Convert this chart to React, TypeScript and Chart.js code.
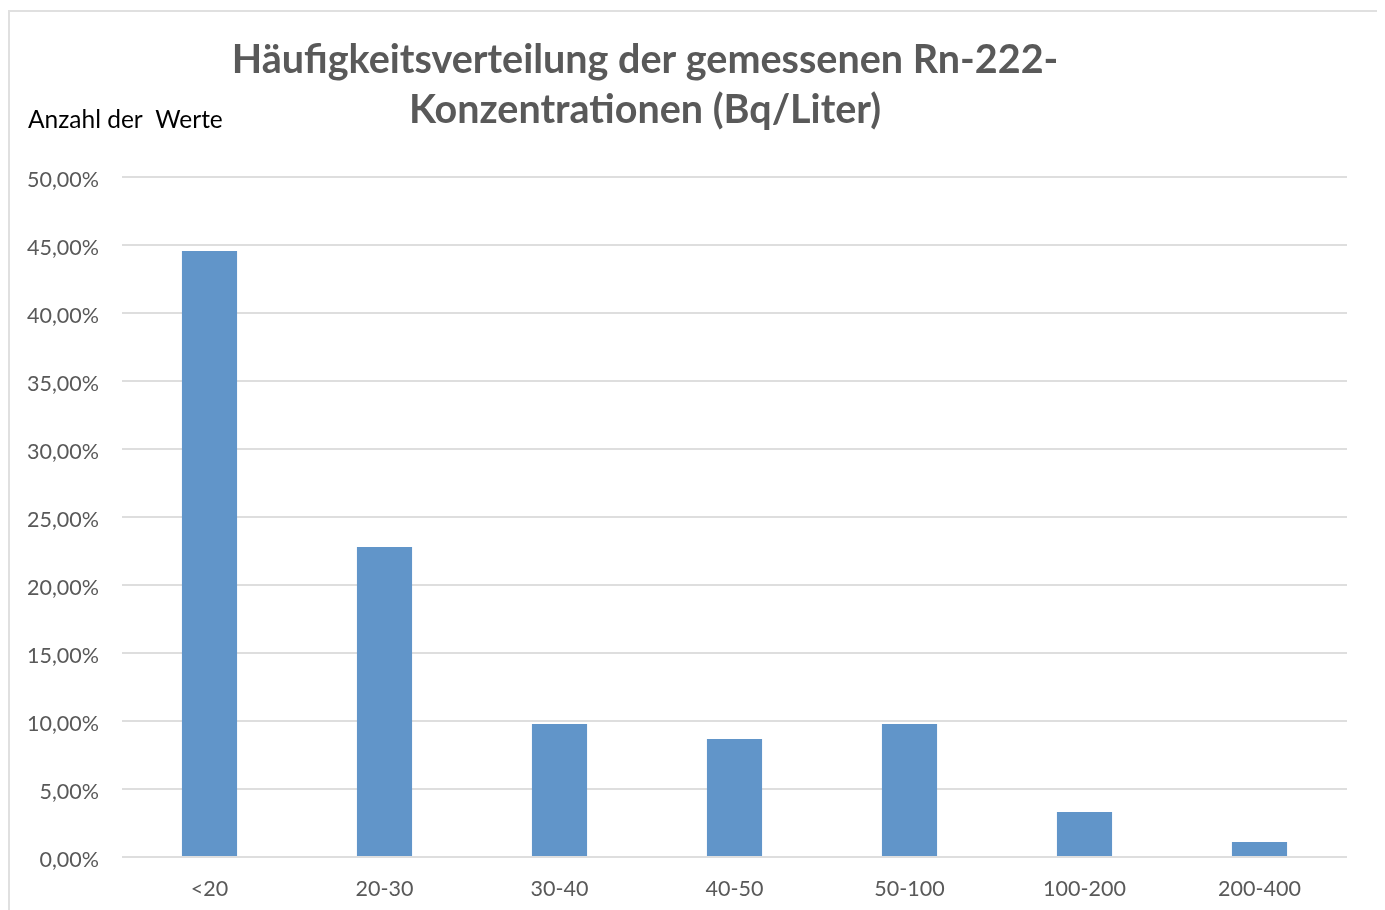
import React, { useEffect, useRef } from "react";
import { Chart, registerables } from "chart.js";

Chart.register(...registerables);

const categories = ["<20", "20-30", "30-40", "40-50", "50-100", "100-200", "200-400"];
const percentages = [44.56, 22.79, 9.78, 8.68, 9.78, 3.31, 1.1];
const titleLines = ["Häufigkeitsverteilung der gemessenen Rn-222-", "Konzentrationen (Bq/Liter)"];
const yAxisLabel = "Anzahl der  Werte";

const FONT = "Lato, 'Open Sans', sans-serif";

const textPlugin = {
  id: "textPlugin",
  afterDraw(chart: any) {
    const ctx = chart.ctx;
    ctx.save();
    ctx.fillStyle = "#595959";
    ctx.font = `bold 39.5px ${FONT}`;
    ctx.textAlign = "center";
    ctx.textBaseline = "alphabetic";
    ctx.fillText(titleLines[0], 635, 61);
    ctx.fillText(titleLines[1], 635, 111);
    ctx.fillStyle = "#000000";
    ctx.font = `24.5px ${FONT}`;
    ctx.textAlign = "left";
    ctx.fillText(yAxisLabel, 18, 116);
    ctx.restore();
  },
};

export default function App() {
  const ref = useRef<HTMLCanvasElement | null>(null);
  useEffect(() => {
    if (!ref.current) return;
    const chart = new Chart(ref.current, {
      type: "bar",
      data: {
        labels: categories,
        datasets: [
          {
            data: percentages,
            backgroundColor: "#6195c9",
            borderWidth: 0,
            categoryPercentage: 1,
            barPercentage: 0.315,
          },
        ],
      },
      options: {
        animation: false,
        responsive: false,
        maintainAspectRatio: false,
        layout: { padding: { left: 0, right: 34, top: 165, bottom: 0 } },
        plugins: {
          legend: { display: false },
          title: { display: false },
          tooltip: { enabled: false },
        },
        scales: {
          x: {
            grid: { display: false },
            border: { display: false },
            ticks: {
              color: "#595959",
              font: { family: FONT, size: 21.5 },
              padding: 11,
              maxRotation: 0,
            },
            afterFit(scale: any) {
              scale.height = 55;
            },
          },
          y: {
            min: 0,
            max: 50,
            grid: { color: "#dedede", lineWidth: 2, drawTicks: false },
            border: { display: false },
            ticks: {
              stepSize: 5,
              color: "#595959",
              font: { family: FONT, size: 21.5 },
              padding: 23,
              labelOffset: 3,
              callback: (v: any) => Number(v).toFixed(2).replace(".", ",") + "%",
            },
            afterFit(scale: any) {
              scale.width = 112;
            },
          },
        },
      },
      plugins: [textPlugin],
    });
    return () => chart.destroy();
  }, []);
  return (
    <div
      style={{
        marginTop: 2,
        width: 1371,
        height: 910,
        border: "2px solid #e0e0e0",
        position: "relative",
        background: "#fff",
      }}
    >
      <canvas ref={ref} width={1371} height={900} style={{ display: "block" }} />
    </div>
  );
}
